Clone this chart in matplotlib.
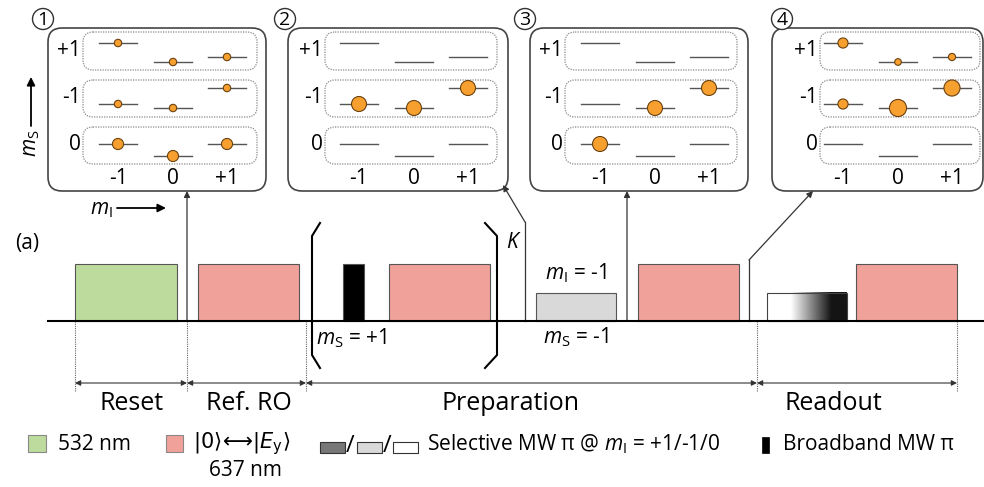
import numpy as np
import matplotlib

matplotlib.use("Agg")
import matplotlib.pyplot as plt
from matplotlib.patches import FancyBboxPatch, Circle, Rectangle

plt.rcParams["font.family"] = ["Open Sans", "DejaVu Sans"]
plt.rcParams["mathtext.fontset"] = "custom"
plt.rcParams["mathtext.rm"] = "Open Sans"
plt.rcParams["mathtext.it"] = "Open Sans:italic"
plt.rcParams["mathtext.fallback"] = "stixsans"

# --- level diagrams (panels 1-4) ---
ms_rows = ["+1", "-1", "0"]
mi_cols = ["-1", "0", "+1"]
row_top = [32, 80, 127]
row_bot = [70, 117, 164]
# hyperfine level heights (px from top), row x column
level_y = [[43, 62, 57], [104, 108, 88], [144, 156, 144]]
# populations (panel x ms row x mI column)
pops = [
    [[0.08, 0.08, 0.08], [0.08, 0.08, 0.08], [0.18, 0.18, 0.18]],
    [[0, 0, 0], [0.33, 0.33, 0.33], [0, 0, 0]],
    [[0, 0, 0], [0, 0.33, 0.33], [0.33, 0, 0]],
    [[0.15, 0.065, 0.075], [0.15, 0.43, 0.38], [0, 0, 0]],
]
panel_origin = [48, 289, 530, 773]
outer_left = [48, 288, 530, 772]
outer_right = [266, 508, 748, 983]
inner_left = [83, 325, 565, 820]
inner_right = [257, 497, 737, 980]
circle_x = [43, 285, 525, 782]
col_offset = [70, 125, 179]

# --- pulse sequence ---
pulse_start = [75, 198, 343, 389, 536, 638, 767, 856]
pulse_end = [177, 299, 364, 490, 616, 739, 847, 957]
pulse_kind = ["532", "637", "bb", "637", "sel", "637", "grad", "637"]
pulse_amp = [1, 1, 1, 1, 0.5, 1, 0.5, 1]
seg_bounds = [75, 187, 306, 757, 957]
seg_names = ["Reset", "Ref. RO", "Preparation", "Readout"]
seg_label_x = [132, 249, 510, 833]
# where each snapshot is taken and where its arrow lands
snap_t = [187, 525, 627, 749]
snap_knee = [None, 222, None, 260]
snap_tip = [(187, 191), (503, 185), (627, 191), (813, 191)]

GREEN = "#bddb9c"
RED = "#f0a199"
GRAY = "#d9d9d9"
DARK = "#777777"
ORANGE = "#f7a030"
BASE = 321
AMP = 57

fig = plt.figure(figsize=(9.84, 4.87), dpi=100)
ax = fig.add_axes([0, 0, 1, 1])

# panels
for k in range(4):
    ax.add_patch(FancyBboxPatch((outer_left[k], 28), outer_right[k] - outer_left[k], 163,
                                boxstyle="round,pad=0,rounding_size=14",
                                fc="none", ec="#444444", lw=1.2))
    ax.add_patch(Circle((circle_x[k], 19), 10.5, fc="white", ec="#333333", lw=1.0))
    ax.text(circle_x[k], 20, str(k + 1), ha="center", va="center", fontsize=14)
    cols = [panel_origin[k] + c for c in col_offset]
    for r in range(3):
        ax.add_patch(FancyBboxPatch((inner_left[k], row_top[r]), inner_right[k] - inner_left[k],
                                    row_bot[r] - row_top[r],
                                    boxstyle="round,pad=0,rounding_size=10",
                                    fc="none", ec="#8a8a8a", lw=0.9, ls=(0, (1, 1))))
        ax.text(inner_left[k] - 2, (row_top[r] + row_bot[r]) / 2 - 1, ms_rows[r],
                ha="right", va="center", fontsize=15)
        for c in range(3):
            y = level_y[r][c]
            ax.plot([cols[c] - 19, cols[c] + 19], [y, y], color="#555555", lw=1.0)
            p = pops[k][r][c]
            if p > 0:
                ax.add_patch(Circle((cols[c], y), 7.5 * np.sqrt(p / 0.33),
                                    fc=ORANGE, ec="#6b4210", lw=0.8, zorder=3))
    for c in range(3):
        ax.text(cols[c], 179, mi_cols[c], ha="center", va="center", fontsize=15)

# axis hints
ax.annotate("", xy=(31, 77), xytext=(31, 126),
            arrowprops=dict(arrowstyle="-|>", lw=1.3, color="black", mutation_scale=12,
                            shrinkA=0, shrinkB=0))
ax.text(31, 143, r"$m_\mathrm{S}$", rotation=90, ha="center", va="center", fontsize=15)
ax.text(101, 210, r"$m_\mathrm{I}$", ha="center", va="center", fontsize=15)
ax.annotate("", xy=(166, 208), xytext=(117, 208),
            arrowprops=dict(arrowstyle="-|>", lw=1.3, color="black", mutation_scale=12,
                            shrinkA=0, shrinkB=0))
ax.text(27, 243, "(a)", ha="center", va="center", fontsize=15)

# pulses
ax.plot([48, 984], [BASE, BASE], color="black", lw=1.5, zorder=4)
for s, e, kind, a in zip(pulse_start, pulse_end, pulse_kind, pulse_amp):
    h = a * AMP
    if kind == "grad":
        t = np.linspace(0, 1, 200)
        g = np.clip(1 - (t - 0.3) / 0.55, 0.08, 1)[None, :]
        ax.imshow(g, cmap="gray", vmin=0, vmax=1, aspect="auto",
                  extent=(s, e, BASE, BASE - h), zorder=2)
        ax.add_patch(Rectangle((s, BASE - h), e - s, h, fc="none", ec="#444444", lw=0.8, zorder=3))
        continue
    fc = {"532": GREEN, "637": RED, "bb": "black", "sel": GRAY}[kind]
    ax.add_patch(Rectangle((s, BASE - h), e - s, h, fc=fc, ec="#555555", lw=0.8, zorder=2))

# repetition brackets
ax.plot([320, 312, 312, 320], [223, 236, 355, 368], color="black", lw=1.5)
ax.plot([485, 497, 497, 485], [223, 236, 355, 368], color="black", lw=1.5)
ax.text(512, 243, "K", ha="center", va="center", fontsize=15, style="italic")
ax.text(316, 338, r"$m_\mathrm{S}$ = +1", ha="left", va="center", fontsize=15)
ax.text(576, 273, r"$m_\mathrm{I}$ = -1", ha="center", va="center", fontsize=15)
ax.text(576, 337, r"$m_\mathrm{S}$ = -1", ha="center", va="center", fontsize=15)

# snapshot arrows
for t, knee, tip in zip(snap_t, snap_knee, snap_tip):
    start = (t, BASE)
    if knee is not None:
        ax.plot([t, t], [BASE, knee], color="#333333", lw=0.9)
        start = (t, knee)
    ax.annotate("", xy=tip, xytext=start,
                arrowprops=dict(arrowstyle="-|>", lw=0.9, color="#333333", mutation_scale=9,
                                shrinkA=0, shrinkB=0))

# segment markers
for x in seg_bounds:
    ax.plot([x, x], [BASE, 392], color="#666666", lw=0.8, ls=(0, (1, 1)))
for a, b, name, lx in zip(seg_bounds[:-1], seg_bounds[1:], seg_names, seg_label_x):
    ax.annotate("", xy=(b, 383), xytext=(a, 383),
                arrowprops=dict(arrowstyle="<|-|>", lw=0.8, color="#333333", mutation_scale=8,
                                shrinkA=0, shrinkB=0))
    ax.text(lx, 404, name, ha="center", va="center", fontsize=18)

# legend
ax.add_patch(Rectangle((28, 435), 18, 17, fc=GREEN, ec="#888888", lw=0.8))
ax.text(58, 444, "532 nm", ha="left", va="center", fontsize=15)
ax.add_patch(Rectangle((166, 435), 17, 17, fc=RED, ec="#888888", lw=0.8))
ax.text(193, 444, r"$|0\rangle\!\longleftrightarrow\!|E_\mathrm{y}\rangle$",
        ha="left", va="center", fontsize=15, math_fontfamily="dejavusans")
ax.text(245, 471, "637 nm", ha="center", va="center", fontsize=15)
for x0, c in zip([320, 357, 393], [DARK, GRAY, "white"]):
    ax.add_patch(Rectangle((x0, 442), 25, 11, fc=c, ec="#333333", lw=0.8))
ax.text(350, 446, "/", ha="center", va="center", fontsize=17)
ax.text(387, 446, "/", ha="center", va="center", fontsize=17)
ax.text(427, 444, r"Selective MW π @ $m_\mathrm{I}$ = +1/-1/0", ha="left", va="center",
        fontsize=15)
ax.add_patch(Rectangle((762, 437), 7, 16, fc="black", ec="black", lw=0.5))
ax.text(783, 444, "Broadband MW π", ha="left", va="center", fontsize=15)

ax.set_xlim(0, 984)
ax.set_ylim(487, 0)
ax.axis("off")

fig.savefig("out.png", dpi=100)
